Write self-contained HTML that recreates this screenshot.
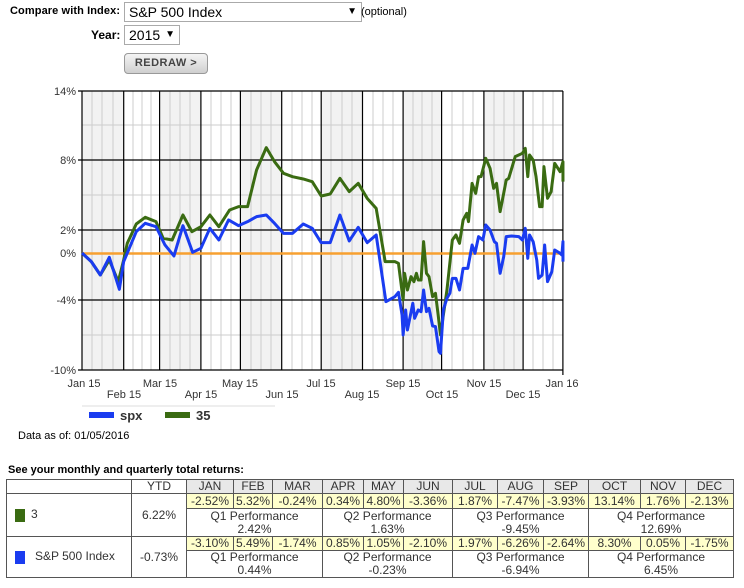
<!DOCTYPE html>
<html><head><style>
body{margin:0;width:744px;height:588px;background:#fff;font-family:"Liberation Sans",Arial,sans-serif;position:relative;overflow:hidden}
.a{position:absolute;white-space:nowrap}
table{position:absolute;left:6px;top:479px;width:728px;border-collapse:collapse;font-size:12px;color:#333;table-layout:fixed}
td{border:1px solid #555;text-align:center;padding:0;line-height:13px;overflow:hidden;white-space:nowrap}
.h td.m{background:#e8e8e8}
.y{background:#ffffcc}
</style></head><body>
<div class="a" style="left:10px;top:5px;font-size:11px;font-weight:bold;letter-spacing:0.1px">Compare with Index:</div>
<div class="a" style="left:124px;top:2px;width:232px;height:18px;border:1px solid #aaa;font-size:14px;line-height:18px;padding-left:4px">S&amp;P 500 Index<span style="position:absolute;right:4px;font-size:10px">▼</span></div>
<div class="a" style="left:361px;top:6px;font-size:11px">(optional)</div>
<div class="a" style="left:91px;top:28px;font-size:12px;font-weight:bold">Year:</div>
<div class="a" style="left:124px;top:25px;width:50px;height:18px;border:1px solid #aaa;font-size:14px;line-height:18px;padding-left:4px">2015<span style="position:absolute;right:4px;font-size:10px">▼</span></div>
<div class="a" style="left:124px;top:53px;width:82px;height:19px;border:1px solid #999;border-radius:4px;background:linear-gradient(#f4f4f4,#cfcfcf);font-size:11px;font-weight:bold;color:#444;line-height:19px;text-align:center;letter-spacing:0.5px">REDRAW &gt;</div>

<svg class="a" style="left:0;top:0" width="744" height="470">
<g font-size="11" fill="#333" font-family="Liberation Sans,sans-serif">
<rect x="82" y="91" width="41.7" height="279" fill="#f2f2f2"/>
<rect x="159.6" y="91" width="41.3" height="279" fill="#f2f2f2"/>
<rect x="240.4" y="91" width="41.3" height="279" fill="#f2f2f2"/>
<rect x="321.2" y="91" width="41.3" height="279" fill="#f2f2f2"/>
<rect x="403.1" y="91" width="38.5" height="279" fill="#f2f2f2"/>
<rect x="483.9" y="91" width="39.2" height="279" fill="#f2f2f2"/>
<g stroke="#ccc" stroke-width="1">
<path d="M92 91V370M102 91V370M113 91V370M133 91V370M142 91V370M151 91V370M170 91V370M180 91V370M190 91V370M211 91V370M221 91V370M231 91V370M251 91V370M261 91V370M271 91V370M292 91V370M302 91V370M312 91V370M331 91V370M342 91V370M352 91V370M373 91V370M383 91V370M393 91V370M413 91V370M422 91V370M432 91V370M452 91V370M463 91V370M473 91V370M494 91V370M504 91V370M514 91V370M533 91V370M543 91V370M553 91V370"/>
<path d="M82 125H563M82 195H563M82 335H563"/>
</g>
<g stroke="#000" stroke-width="1.2">
<path d="M82 91V370M123.7 91V370M159.6 91V370M200.9 91V370M240.4 91V370M281.7 91V370M321.2 91V370M362.5 91V370M403.1 91V370M441.6 91V370M483.9 91V370M523.1 91V370M562.9 91V375"/>
<path d="M78 91H563M78 160H563M78 230H563M78 300H563M78 370H563"/>
</g>
<path d="M82 253.5H563" stroke="#f7a030" stroke-width="2.5"/>
<g transform="translate(37.46,80) scale(0.3592,0.3333)" fill="none" stroke-width="3" stroke-linejoin="round">
<polyline vector-effect="non-scaling-stroke" stroke="#3a6b12" points="124,519 150,545 175,585 200,540 225,605 240,540 250,490 275,432 300,412 330,425 350,475 375,480 405,405 430,455 455,440 480,405 505,440 535,390 560,380 585,380 610,270 637,203 660,245 685,280 710,290 740,297 765,305 790,348 815,342 842,295 868,335 893,310 918,355 943,385 968,545 995,545 1005,550 1018,660 1022,580 1030,630 1040,590 1048,605 1055,580 1060,600 1068,600 1075,485 1083,580 1090,590 1100,650 1108,640 1115,700 1122,765 1130,705 1140,630 1155,480 1165,465 1175,490 1185,420 1195,400 1200,425 1210,310 1220,340 1228,290 1235,290 1248,235 1260,265 1270,325 1278,310 1288,395 1298,340 1305,300 1312,295 1330,230 1350,220 1358,205 1365,290 1370,225 1380,240 1388,290 1398,380 1405,380 1410,260 1420,355 1430,335 1440,250 1455,275 1463,245 1463,305"/>
<polyline vector-effect="non-scaling-stroke" stroke="#1a3cf0" points="124,519 150,545 175,585 200,532 228,628 240,545 275,455 300,430 330,440 355,495 380,528 405,437 432,517 455,505 480,445 505,480 532,420 560,437 585,425 610,410 637,405 660,430 685,460 710,460 740,432 765,445 790,488 815,488 842,405 868,483 893,442 918,488 943,465 970,665 995,650 1005,637 1015,705 1018,765 1025,690 1030,750 1045,670 1050,715 1060,690 1068,695 1075,630 1083,695 1090,685 1100,738 1108,740 1118,815 1122,820 1130,690 1140,655 1148,640 1155,595 1165,595 1175,630 1185,565 1198,565 1210,495 1218,520 1228,470 1240,480 1248,435 1260,450 1272,485 1278,490 1288,580 1298,530 1305,470 1320,468 1340,470 1350,480 1358,445 1365,535 1370,465 1380,485 1390,540 1395,595 1405,585 1412,495 1420,605 1432,575 1440,510 1455,520 1460,525 1463,485 1463,545"/>
</g>
<g text-anchor="end"><text x="76" y="95">14%</text><text x="76" y="164">8%</text><text x="76" y="234">2%</text><text x="76" y="257">0%</text><text x="76" y="304">-4%</text><text x="76" y="374">-10%</text></g>
<g text-anchor="middle"><text x="84" y="387">Jan 15</text><text x="160" y="387">Mar 15</text><text x="240" y="387">May 15</text><text x="321" y="387">Jul 15</text><text x="403" y="387">Sep 15</text><text x="484" y="387">Nov 15</text><text x="562" y="387">Jan 16</text>
<text x="124" y="398">Feb 15</text><text x="201" y="398">Apr 15</text><text x="282" y="398">Jun 15</text><text x="362" y="398">Aug 15</text><text x="442" y="398">Oct 15</text><text x="523" y="398">Dec 15</text></g>
<path d="M82 406H275" stroke="#ddd"/>
<rect x="89" y="412" width="25" height="6" fill="#1a3cf0"/><text x="120" y="420" font-weight="bold" font-size="13">spx</text>
<rect x="165" y="412" width="25" height="6" fill="#3a6b12"/><text x="196" y="420" font-weight="bold" font-size="13">35</text>
<text x="18" y="439" font-size="11" fill="#000">Data as of: 01/05/2016</text>
</g></svg>
<div class="a" style="left:8px;top:464px;font-size:11px;font-weight:bold">See your monthly and quarterly total returns:</div>
<table>
<colgroup><col style="width:125px"><col style="width:55px"><col style="width:47px"><col style="width:39px"><col style="width:50px"><col style="width:41px"><col style="width:40px"><col style="width:49px"><col style="width:45px"><col style="width:46px"><col style="width:45px"><col style="width:52px"><col style="width:45px"><col style="width:48px"></colgroup>
<tr class="h" style="height:13px"><td></td><td>YTD</td><td class="m">JAN</td><td class="m">FEB</td><td class="m">MAR</td><td class="m">APR</td><td class="m">MAY</td><td class="m">JUN</td><td class="m">JUL</td><td class="m">AUG</td><td class="m">SEP</td><td class="m">OCT</td><td class="m">NOV</td><td class="m">DEC</td></tr>
<tr style="height:15px"><td rowspan="2" style="text-align:left;padding-left:8px"><span style="display:inline-block;width:10px;height:13px;background:#3a6b12;vertical-align:middle;margin-right:6px"></span>3</td><td rowspan="2">6.22%</td><td class="y">-2.52%</td><td class="y">5.32%</td><td class="y">-0.24%</td><td class="y">0.34%</td><td class="y">4.80%</td><td class="y">-3.36%</td><td class="y">1.87%</td><td class="y">-7.47%</td><td class="y">-3.93%</td><td class="y">13.14%</td><td class="y">1.76%</td><td class="y">-2.13%</td></tr>
<tr style="height:28px"><td colspan="3">Q1 Performance<br>2.42%</td><td colspan="3">Q2 Performance<br>1.63%</td><td colspan="3">Q3 Performance<br>-9.45%</td><td colspan="3">Q4 Performance<br>12.69%</td></tr>
<tr style="height:14px"><td rowspan="2" style="text-align:left;padding-left:8px"><span style="display:inline-block;width:10px;height:13px;background:#1a3cf0;vertical-align:middle;margin-right:10px"></span>S&amp;P 500 Index</td><td rowspan="2">-0.73%</td><td class="y">-3.10%</td><td class="y">5.49%</td><td class="y">-1.74%</td><td class="y">0.85%</td><td class="y">1.05%</td><td class="y">-2.10%</td><td class="y">1.97%</td><td class="y">-6.26%</td><td class="y">-2.64%</td><td class="y">8.30%</td><td class="y">0.05%</td><td class="y">-1.75%</td></tr>
<tr style="height:27px"><td colspan="3">Q1 Performance<br>0.44%</td><td colspan="3">Q2 Performance<br>-0.23%</td><td colspan="3">Q3 Performance<br>-6.94%</td><td colspan="3">Q4 Performance<br>6.45%</td></tr>
</table>
</body></html>
